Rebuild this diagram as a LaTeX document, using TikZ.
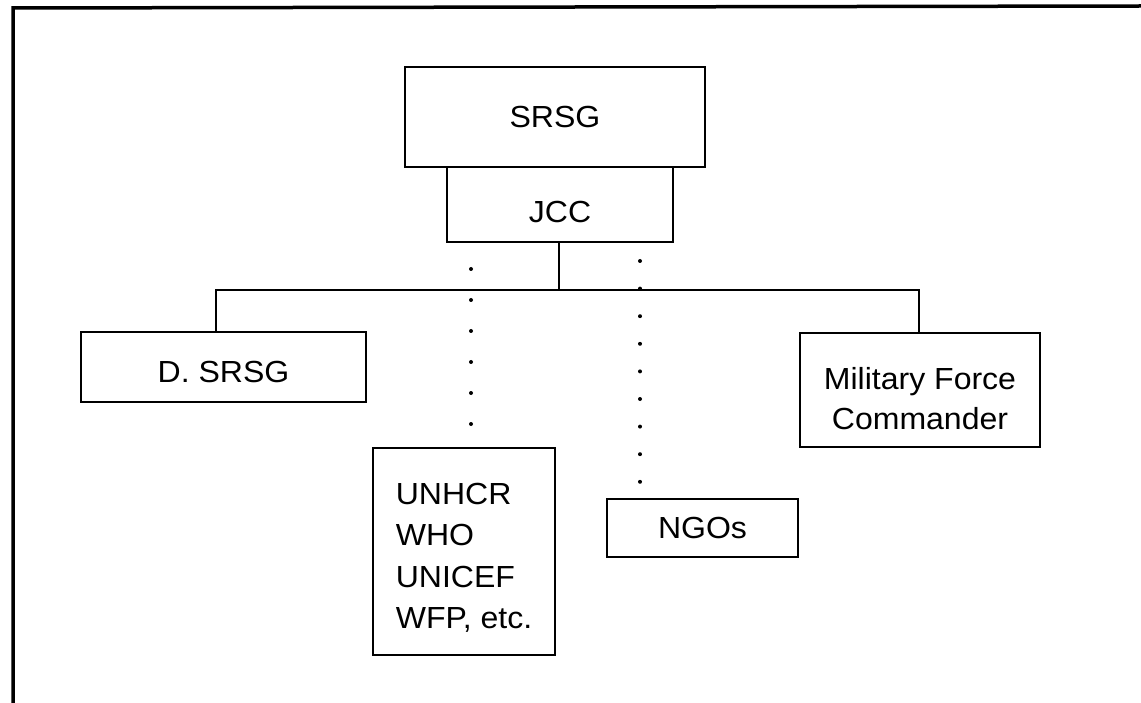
\documentclass[tikz,border=0pt]{standalone}
\usepackage{fontspec}
\setmainfont{Liberation Sans}[FakeStretch=1.05]
\begin{document}
\begin{tikzpicture}[x=1pt,y=-1pt,
  box/.style={draw, line width=2.6pt, inner sep=0pt, font=\fontsize{30.5}{41}\selectfont},
  link/.style={line width=2.4pt},
  dots/.style={line width=4pt, line cap=round, dash pattern=on 0pt off #1},
  dots/.default=31pt,
  frame/.style={line width=3.5pt}]
\fill[white] (0,0) rectangle (1141,703);
\useasboundingbox (0,0) rectangle (1141,703);
% outer frame (only left and top edges visible)
\draw[frame] (13,703) -- (13,8) -- (1141,6);
% boxes
\node[box, minimum width=300pt, minimum height=100pt] (srsg) at (555,117) {SRSG};
\node[box, minimum width=226pt, minimum height=75pt, text height=37pt] (jcc) at (560,204.5) {JCC};
\node[box, minimum width=285pt, minimum height=70pt, text height=31pt] (dsrsg) at (223.5,367) {D. SRSG};
\node[box, minimum width=240pt, minimum height=114pt, align=center, text height=78pt, text depth=0pt] (mil) at (920,390) {Military Force\\[-1pt]Commander};
\node[box, minimum width=182pt, minimum height=207pt, align=left, text height=154pt, text depth=0pt, font=\fontsize{30.5}{41.5}\selectfont] (agencies) at (464,551.5) {UNHCR\\WHO\\UNICEF\\WFP, etc.};
\node[box, minimum width=191pt, minimum height=58pt] (ngos) at (702.5,528) {NGOs};
% bus
\coordinate (bl) at (216,290);
\coordinate (br) at (919,290);
\draw[link] (jcc.south -| 559,0) -- (559,290);
\draw[link] (dsrsg.north -| bl) -- (bl) -- (br) -- (mil.north -| br);
% dotted links
\coordinate (dl) at (471,269);
\coordinate (dr) at (640,261);
\draw[dots=31pt] (dl) -- (dl |- agencies.north);
\draw[dots=27.6pt] (dr) -- (dr |- ngos.north);
\end{tikzpicture}
\end{document}
